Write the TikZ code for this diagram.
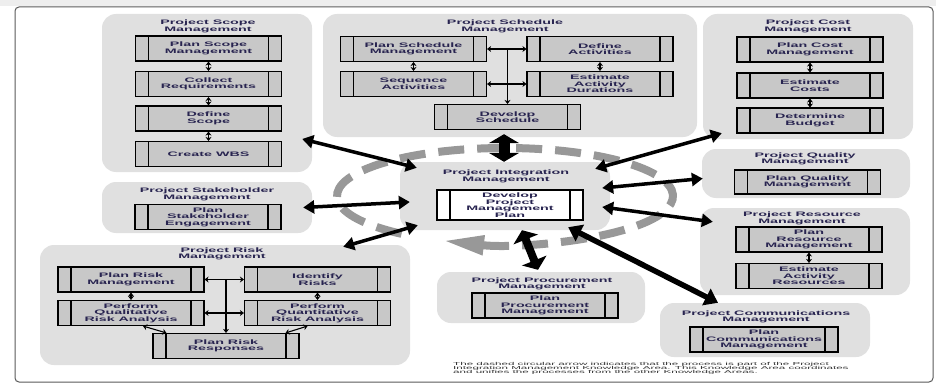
\documentclass[tikz,border=0pt]{standalone}
\usepackage{fontspec}
\usepackage{tikz}
\usetikzlibrary{arrows.meta,calc}
\setmainfont{Liberation Sans}
\newfontfamily\widefont{Liberation Sans}[FakeStretch=2.2]
\newfontfamily\notefont{Liberation Sans}[FakeStretch=2.7]
\definecolor{grpgray}{RGB}{224,224,224}
\definecolor{boxgray}{RGB}{200,200,200}
\definecolor{ringgray}{RGB}{152,152,152}
\definecolor{txtnavy}{RGB}{40,36,80}
\definecolor{framegray}{RGB}{90,90,90}
\definecolor{pagegray}{RGB}{238,238,238}

\begin{document}
\begin{tikzpicture}[x=1pt,y=-1pt,
  grp/.style={fill=grpgray,rounded corners=14pt,inner sep=0pt},
  ttl/.style={font=\widefont\bfseries\fontsize{6.5}{6.6}\selectfont,text=txtnavy,align=center,inner sep=0pt},
  proc/.style={draw=black,line width=1.1pt,fill=boxgray,minimum width=146,minimum height=25,inner sep=0pt,align=center,
    font=\widefont\bfseries\fontsize{6.5}{6.5}\selectfont,text=txtnavy,
    path picture={\draw[line width=1.1pt] ([xshift=13pt]path picture bounding box.north west) -- ([xshift=13pt]path picture bounding box.south west)
      ([xshift=-13pt]path picture bounding box.north east) -- ([xshift=-13pt]path picture bounding box.south east);}},
  wproc/.style={proc,fill=white},
  link/.style={{Stealth[length=4pt,width=6pt]}-{Stealth[length=4pt,width=6pt]},line width=1.1pt},
  dlink/.style={-{Stealth[length=4pt,width=6pt]},line width=1.1pt},
  bigarr/.style={{Triangle[length=11pt,width=13pt]}-{Triangle[length=11pt,width=13pt]},line width=3.5pt},
  heavyarr/.style={{Triangle[length=13pt,width=18pt]}-{Triangle[length=13pt,width=18pt]},line width=5.5pt},
  procarr/.style={{Triangle[length=10pt,width=26pt]}-{Triangle[length=10pt,width=26pt]},line width=8pt},
  hugearr/.style={{Triangle[length=9pt,width=30pt]}-{Triangle[length=9pt,width=30pt]},line width=11pt},
  ring/.style={draw=ringgray,line width=8pt,dash pattern=on 26pt off 13pt,-{Triangle[length=42pt,width=18pt]}},
  note/.style={font=\notefont\fontsize{4.3}{4.3}\selectfont,text=black!80,align=left,inner sep=0pt}]
\useasboundingbox (0,0) rectangle (936,385);
\fill[white] (0,0) rectangle (936,385);
\fill[pagegray] (0,0) rectangle (936,6);
\draw[framegray,line width=1pt,rounded corners=4pt] (15,7) rectangle (933,382);

\node[grp,minimum width=210,minimum height=158] (scope) at (207,93) {};
\node[grp,minimum width=374,minimum height=123] (sched) at (510,75.5) {};
\node[grp,minimum width=210,minimum height=125] (cost) at (808,76.5) {};
\node[grp,minimum width=208,minimum height=49] (qual) at (806,173.5) {};
\node[grp,minimum width=210,minimum height=87] (res) at (805,251.5) {};
\node[grp,minimum width=210,minimum height=54] (comm) at (765,330) {};
\node[grp,minimum width=208,minimum height=51] (procu) at (541,297.5) {};
\node[grp,minimum width=210,minimum height=68] (integ) at (505,196) {};
\node[grp,minimum width=210,minimum height=51] (stake) at (207,207.5) {};
\node[grp,minimum width=370,minimum height=120] (risk) at (225,305) {};

\draw[ring] ($(integ.center)+(-232:168 and 48)$) arc[start angle=-232,end angle=112,x radius=168,y radius=48];

\node[ttl] (scopeT) at (208,26.5) {Project Scope\\Management};
\node[ttl] (schedT) at (505,26.5) {Project Schedule\\Management};
\node[ttl] (costT) at (808,26.5) {Project Cost\\Management};
\node[ttl] (qualT) at (805,159) {Project Quality\\Management};
\node[ttl] (resT) at (802,218.5) {Project Resource\\Management};
\node[ttl] (commT) at (766,317) {Project Communications\\Management};
\node[ttl] (procuT) at (542,284) {Project Procurement\\Management};
\node[ttl] (integT) at (506,176.5) {Project Integration\\Management};
\node[ttl] (stakeT) at (207,194.5) {Project Stakeholder\\Management};
\node[ttl] (riskT) at (222,254) {Project Risk\\Management};

\node[proc] (s1) at (208.5,48.5) {Plan Scope\\Management};
\node[proc] (s2) at (208.5,84) {Collect\\Requirements};
\node[proc] (s3) at (208.5,118.5) {Define\\Scope};
\node[proc] (s4) at (208.5,154) {Create WBS};
\node[proc] (psm) at (413.5,49) {Plan Schedule\\Management};
\node[proc] (da) at (600,49) {Define\\Activities};
\node[proc] (sa) at (413.5,84) {Sequence\\Activities};
\node[proc] (ead) at (600,84) {Estimate\\Activity\\Durations};
\node[proc] (ds) at (507.5,117) {Develop\\Schedule};
\node[proc] (c1) at (810,49.5) {Plan Cost\\Management};
\node[proc] (c2) at (810,85.5) {Estimate\\Costs};
\node[proc] (c3) at (810,120.5) {Determine\\Budget};
\node[proc,minimum height=24] (q1) at (807.5,182) {Plan Quality\\Management};
\node[proc] (r1) at (809,239.5) {Plan\\Resource\\Management};
\node[proc] (r2) at (809,276) {Estimate\\Activity\\Resources};
\node[proc,minimum width=148] (m1) at (764,339.5) {Plan\\Communications\\Management};
\node[proc] (p1) at (545,305.5) {Plan\\Procurement\\Management};
\node[wproc,minimum height=30] (dpmp) at (510,205) {Develop\\Project\\Management\\Plan};
\node[proc] (k1) at (208,217) {Plan\\Stakeholder\\Engagement};
\node[proc] (prm) at (131,279.5) {Plan Risk\\Management};
\node[proc] (ir) at (317.5,279.5) {Identify\\Risks};
\node[proc] (qlra) at (131,313) {Perform\\Qualitative\\Risk Analysis};
\node[proc] (qnra) at (317.5,313) {Perform\\Quantitative\\Risk Analysis};
\node[proc] (prr) at (226,346) {Plan Risk\\Responses};

\draw[link] (s1) -- (s2);
\draw[link] (s2) -- (s3);
\draw[link] (s3) -- (s4);
\draw[link] (psm) -- (sa);
\draw[link] (da) -- (ead);
\draw[link] (psm) -- (da);
\draw[link] (sa) -- (ead);
\draw[dlink] (psm.east -| ds.north) -- (ds.north);
\draw[link] (c1) -- (c2);
\draw[link] (c2) -- (c3);
\draw[link] (r1) -- (r2);
\draw[link] (prm) -- (ir);
\draw[link] (qlra) -- (qnra);
\draw[link] (prm) -- (qlra);
\draw[link] (ir) -- (qnra);
\draw[dlink] (prm.east -| prr.north) -- (prr.north);
\draw[link] ([xshift=12pt]qlra.south) -- ([xshift=14pt]prr.north west);
\draw[link] ([xshift=-10pt]qnra.south) -- ([xshift=-14pt]prr.north east);

\draw[bigarr] ($(scope.east)+(-10,46)$) -- ($(integ.north west)+(17,6)$);
\draw[hugearr] ($(sched.south)+(-6,-3)$) -- ($(integ.north)+(-1,0)$);
\draw[bigarr] ($(cost.south west)+(19,-6)$) -- ($(integ.north east)+(-15,7)$);
\draw[bigarr] ($(qual.west)+(1,5)$) -- ($(integ.east)+(-8,-8)$);
\draw[bigarr] ($(res.north west)+(13,14)$) -- ($(integ.east)+(-8,11)$);
\draw[heavyarr] ($(comm.north)+(-47,0)$) -- ($(integ.south east)+(-42,-3)$);
\draw[procarr] ($(procu.north)+(-3,-2)$) -- ($(integ.south)+(17,0)$);
\draw[bigarr] ($(risk.north east)+(-67,2)$) -- ($(integ.south west)+(18,-5)$);
\draw[bigarr] ($(stake.east)+(-9,0)$) -- ($(integ.west)+(10,6)$);

\node[note,anchor=north west] (remark) at (453,362) {The dashed circular arrow indicates that the process is part of the Project\\Integration Management Knowledge Area. This Knowledge Area coordinates\\and unifies the processes from the other Knowledge Areas.};
\end{tikzpicture}
\end{document}
